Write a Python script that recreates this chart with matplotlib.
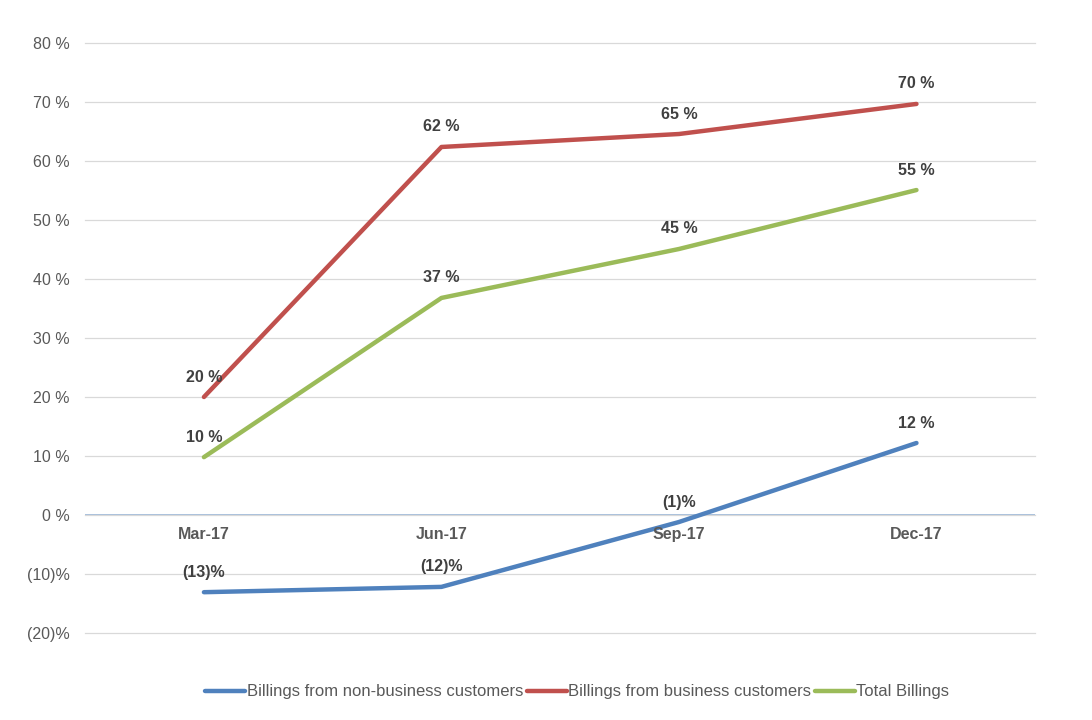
import matplotlib
matplotlib.use('Agg')
import matplotlib.pyplot as plt

plt.rcParams['font.family'] = ['Liberation Sans', 'DejaVu Sans']

quarters = ['Mar-17', 'Jun-17', 'Sep-17', 'Dec-17']
non_business = [-13.1, -12.2, -1.2, 12.2]
business = [20.0, 62.4, 64.6, 69.7]
total = [9.8, 36.8, 45.1, 55.1]
non_business_lbl = ['(13)%', '(12)%', '(1)%', '12 %']
business_lbl = ['20 %', '62 %', '65 %', '70 %']
total_lbl = ['10 %', '37 %', '45 %', '55 %']
yticks = [-20, -10, 0, 10, 20, 30, 40, 50, 60, 70, 80]
ytick_lbl = ['(20)%', '(10)%', '0 %', '10 %', '20 %', '30 %', '40 %', '50 %', '60 %', '70 %', '80 %']

fig = plt.figure(figsize=(10.92, 7.2), dpi=100)
ax = fig.add_axes([0.078, 0.121, 0.870, 0.819])

x = list(range(len(quarters)))
series = [
    (non_business, non_business_lbl, '#4F81BD', 'Billings from non-business customers'),
    (business, business_lbl, '#C0504D', 'Billings from business customers'),
    (total, total_lbl, '#9BBB59', 'Total Billings'),
]
for vals, lbls, col, name in series:
    ax.plot(x, vals, color=col, lw=3.2, solid_capstyle='round', label=name, zorder=3)
    for xi, v, t in zip(x, vals, lbls):
        ax.annotate(t, (xi, v), xytext=(0, 9), textcoords='offset points',
                    ha='center', va='bottom', fontsize=11.5, fontweight='bold', color='#404040')

for xi, q in zip(x, quarters):
    ax.annotate(q, (xi, 0), xytext=(0, -9), textcoords='offset points',
                ha='center', va='top', fontsize=11.5, fontweight='bold', color='#595959')

ax.set_xlim(-0.5, 3.5)
ax.set_ylim(-20, 80)
ax.set_yticks(yticks)
ax.set_yticklabels(ytick_lbl, fontsize=11.5, color='#595959')
ax.set_xticks([])
ax.tick_params(axis='y', length=0, pad=11)
ax.grid(axis='y', color='#D9D9D9', lw=0.9, zorder=0)
for gl in ax.get_ygridlines():
    gl.set_clip_on(False)
ax.axhline(0, color='#95B3D7', lw=1.2, zorder=1)
for s in ax.spines.values():
    s.set_visible(False)

ax.legend(loc='center', bbox_to_anchor=(0.518, -0.1), ncol=3, frameon=False,
          fontsize=12, handlelength=2.4, handletextpad=0.1, columnspacing=0.2,
          labelcolor='#595959')

fig.savefig('out.png', dpi=100)
